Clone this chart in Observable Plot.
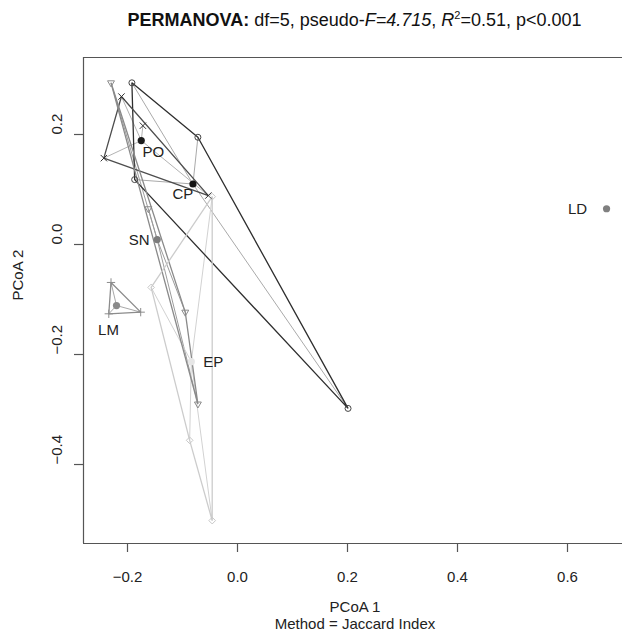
<!DOCTYPE html>
<html><head><meta charset="utf-8">
<script src="https://cdn.jsdelivr.net/npm/d3@7"></script>
<script src="https://cdn.jsdelivr.net/npm/@observablehq/plot@0.6"></script>
<style>
html,body{margin:0;padding:0;background:#fff;}
#chart svg{display:block;}
</style></head><body><div id="chart"></div>
<script>
// ---------- data ----------
const sampleGroup = ["CP","CP","CP","CP","PO","PO","PO","PO","SN","SN","SN","SN","LM","LM","LM","EP","EP","EP","EP","LD"];
const samplePC1 = [-0.192,-0.072,-0.187,0.201, -0.211,-0.243,-0.172,-0.053, -0.230,-0.162,-0.095,-0.072, -0.230,-0.176,-0.234, -0.046,-0.157,-0.087,-0.046, 0.671];
const samplePC2 = [0.294,0.195,0.118,-0.298, 0.269,0.157,0.216,0.089, 0.294,0.065,-0.123,-0.290, -0.069,-0.123,-0.126, 0.087,-0.078,-0.356,-0.502, 0.065];
const centroidGroup = ["PO","CP","SN","LM","EP","LD"];
const centroidPC1 = [-0.175,-0.081,-0.146,-0.220,-0.084,0.671];
const centroidPC2 = [0.189,0.110,0.009,-0.111,-0.213,0.065];
const xTicks = [-0.2,0,0.2,0.4,0.6];
const yTicks = [-0.4,-0.2,0,0.2];
const xLabel = "PCoA 1";
const xSubLabel = "Method = Jaccard Index";
const yLabel = "PCoA 2";
const titleParts = ["PERMANOVA:"," df=5, pseudo-","F=4.715",", ","R","2","=0.51, p<0.001"];

// ---------- styles ----------
const FONT = '"Liberation Sans", Arial, Helvetica, sans-serif';
const hullColor = {CP:"#2e2e2e", PO:"#4d4d4d", SN:"#8a8a8a", LM:"#8c8c8c", EP:"#cccccc", LD:"#888888"};
const spiderColor = {CP:"#aaaaaa", PO:"#b3b3b3", SN:"#9c9c9c", LM:"#a8a8a8", EP:"#d2d2d2", LD:"#888888"};
const pointColor = {CP:"#444444", PO:"#333333", SN:"#8a8a8a", LM:"#8c8c8c", EP:"#c8c8c8", LD:"#888888"};
const centroidFill = {PO:"#1c1c1c", CP:"#141414", SN:"#7c7c7c", LM:"#8a8a8a", EP:"#e6e6e6", LD:"#808080"};
const triangleDown = {
  draw(context, size) {
    const s = Math.sqrt(size) * 0.6824, t = s / 2, u = s * Math.sqrt(3) / 2;
    context.moveTo(0, s); context.lineTo(u, -t); context.lineTo(-u, -t); context.closePath();
  }
};
const groupSymbol = {CP:["circle",3], PO:["times",3], SN:[triangleDown,3.3], LM:["plus",2.8], EP:["diamond2",3]};
const labelNudge = {PO:[12,12], CP:[-10,10], SN:[-18,1], LM:[-8,25], EP:[22,1], LD:[-29,0]};

// ---------- tables ----------
const samples = sampleGroup.map((g,i) => ({group:g, x:samplePC1[i], y:samplePC2[i]}));
const centroids = centroidGroup.map((g,i) => ({group:g, x:centroidPC1[i], y:centroidPC2[i]}));
const cMap = new Map(centroids.map(c => [c.group, c]));
const fmt = d3.format(".1f");

const xDomain = [-0.28, 0.70];
const yDomain = [-0.5436, 0.34];

const marks = [
  // box (left, top, bottom; right side lies just outside the picture)
  Plot.ruleX([xDomain[0]], {stroke:"#555", strokeWidth:1.2}),
  Plot.ruleY(yDomain, {stroke:"#555", strokeWidth:1.2}),
  Plot.axisX({ticks:xTicks, tickSize:9, tickFormat:() => "", label:null, stroke:"#555", strokeWidth:1.2}),
  Plot.axisY({ticks:yTicks, tickSize:9, tickFormat:() => "", label:null, stroke:"#555", strokeWidth:1.2}),
  Plot.text(xTicks, {x:d => d, frameAnchor:"bottom", dy:34, text:d => fmt(d), fontSize:15, fill:"#222", lineAnchor:"middle", fontFamily:FONT}),
  Plot.text(yTicks, {y:d => d, frameAnchor:"left", dx:-26, rotate:-90, text:d => fmt(d), fontSize:15, fill:"#222", lineAnchor:"middle", fontFamily:FONT}),
  Plot.text([xLabel], {frameAnchor:"bottom", dx:2, dy:64, text:d => d, fontSize:15, fill:"#222", lineAnchor:"middle", fontFamily:FONT}),
  Plot.text([xSubLabel], {frameAnchor:"bottom", dx:2, dy:81, text:d => d, fontSize:15, fill:"#222", lineAnchor:"middle", fontFamily:FONT}),
  Plot.text([yLabel], {frameAnchor:"left", dx:-65, rotate:-90, text:d => d, fontSize:15, fill:"#222", lineAnchor:"middle", fontFamily:FONT}),
  // spiders
  Plot.link(samples, {x1:"x", y1:"y", x2:d => cMap.get(d.group).x, y2:d => cMap.get(d.group).y, stroke:d => spiderColor[d.group], strokeWidth:1}),
  // hulls
  Plot.hull(samples.filter(d => d.group !== "LD"), {x:"x", y:"y", z:"group", stroke:d => hullColor[d.group], strokeWidth:1.3, fill:"none"}),
];
// sample points
for (const g of Object.keys(groupSymbol)) {
  const [sym, r] = groupSymbol[g];
  marks.push(Plot.dot(samples.filter(d => d.group === g), {x:"x", y:"y", symbol:sym, r, stroke:pointColor[g], strokeWidth:1, fill:"none"}));
}
// centroids
marks.push(Plot.dot(centroids, {x:"x", y:"y", r:3.6, fill:d => centroidFill[d.group], stroke:"none"}));
for (const c of centroids) {
  const [dx, dy] = labelNudge[c.group];
  marks.push(Plot.text([c], {x:"x", y:"y", text:"group", dx, dy, fontSize:15, fill:"#222", lineAnchor:"middle", fontFamily:FONT}));
}

const chart = Plot.plot({
  width:622, height:636,
  marginLeft:83, marginRight:0, marginTop:57, marginBottom:93,
  x:{domain:xDomain},
  y:{domain:yDomain},
  color:{type:"identity"},
  style:{fontFamily:FONT, background:"white", color:"#222"},
  marks
});

const svg = d3.select(chart);
const t = svg.append("text").attr("x", 354.5).attr("y", 26).attr("text-anchor", "middle")
  .attr("font-size", 18).attr("fill", "#111").attr("font-family", FONT);
t.append("tspan").attr("font-weight", "bold").text(titleParts[0]);
t.append("tspan").text(titleParts[1]);
t.append("tspan").attr("font-style", "italic").text(titleParts[2]);
t.append("tspan").text(titleParts[3]);
t.append("tspan").attr("font-style", "italic").text(titleParts[4]);
t.append("tspan").attr("font-size", 11).attr("dy", -7).text(titleParts[5]);
t.append("tspan").attr("dy", 7).text(titleParts[6]);

document.getElementById("chart").appendChild(chart);
</script>
</body></html>
